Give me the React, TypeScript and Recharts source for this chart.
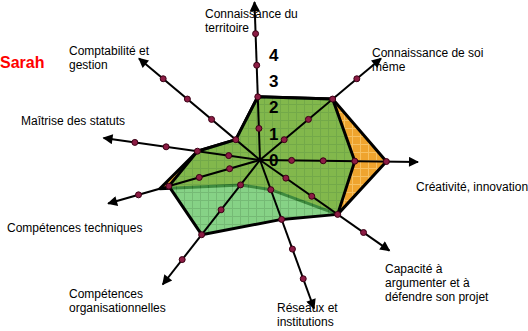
import React from 'react';
import { RadarChart, Radar, PolarAngleAxis, PolarRadiusAxis } from 'recharts';

// skill names (line breaks as in the original figure)
const skills = [
  'Connaissance du\nterritoire',
  'Connaissance de soi\nmême',
  'Créativité, innovation',
  'Capacité à\nargumenter et à\ndéfendre son projet',
  'Réseaux et\ninstitutions',
  'Compétences\norganisationnelles',
  'Compétences techniques',
  'Maîtrise des statuts',
  'Comptabilité et\ngestion',
];
const orangeScores = [2, 3, 4, 3, 1, 1, 3.3, 2, 1];
const greenScores = [2, 3, 3, 3, 2, 3, 3, 2, 1];
const scaleTicks = [0, 1, 2, 3, 4];

// layout: the axes of the drawing are not evenly spaced (degrees, counter-clockwise)
const axisAngles = [92, 40, 359.3, 325, 290, 232, 196, 172, 140];
const labelPos = [
  { left: 205, top: 7 },
  { left: 372, top: 46 },
  { left: 416, top: 180 },
  { left: 385, top: 262 },
  { left: 277, top: 301 },
  { left: 69, top: 287 },
  { left: 7, top: 221 },
  { left: 21, top: 114 },
  { left: 69, top: 44 },
];

const tableData = skills.map((skill, i) => ({
  skill,
  angle: axisAngles[i],
  orange: orangeScores[i],
  green: greenScores[i],
}));

const FONT = '"Liberation Sans", Arial, sans-serif';
const R = 158;

export default function App() {
  return (
    <div style={{ position: 'absolute', left: 0, top: 0, width: 528, height: 331, background: '#fff', overflow: 'hidden', fontFamily: FONT }}>
      <style>{`.recharts-polar-angle-axis-tick-line { marker-start: url(#axisArrow); }`}</style>
      <svg width={0} height={0} style={{ position: 'absolute' }}>
        <defs>
          <marker id="axisArrow" viewBox="0 0 10 10" refX={9} refY={5} markerWidth={12} markerHeight={10} markerUnits="userSpaceOnUse" orient="auto-start-reverse">
            <path d="M0,0 L10,5 L0,10 z" fill="#000" />
          </marker>
          <pattern id="orangeHatch" width={8} height={8} patternUnits="userSpaceOnUse">
            <rect width={8} height={8} fill="#efa42e" />
            <path d="M0,0.5 H8 M0.5,0 V8" stroke="#f7c060" strokeWidth={1} />
          </pattern>
          <pattern id="greenHatch" width={8} height={8} patternUnits="userSpaceOnUse">
            <rect width={8} height={8} fill="#58c058" />
            <path d="M0,0.5 H8 M0.5,0 V8" stroke="#40a040" strokeWidth={1} />
          </pattern>
        </defs>
      </svg>

      <RadarChart
        width={528}
        height={331}
        data={tableData}
        cx={260}
        cy={160}
        outerRadius={R}
        startAngle={0}
        endAngle={360}
        margin={{ top: 0, right: 0, bottom: 0, left: 0 }}
      >
        <PolarAngleAxis
          dataKey="angle"
          type="number"
          domain={[0, 360]}
          ticks={axisAngles}
          orientation="inner"
          tickSize={R}
          tick={false}
          axisLine={false}
          tickLine={{ stroke: '#000', strokeWidth: 2 }}
        />
        <PolarRadiusAxis
          radiusAxisId="poly"
          angle={90}
          domain={[0, 5]}
          allowDataOverflow
          ticks={scaleTicks}
          axisLine={false}
          tick={{ fill: 'none', fontSize: 1 }}
        />
        <PolarRadiusAxis
          radiusAxisId="lbl"
          angle={90}
          domain={[0, 5.75]}
          allowDataOverflow
          ticks={scaleTicks}
          axisLine={false}
          tick={{ fill: '#000', fontSize: 17, fontWeight: 'bold', fontFamily: FONT, dx: 9, dy: 6 }}
        />
        <Radar
          radiusAxisId="poly"
          dataKey="orange"
          fill="url(#orangeHatch)"
          fillOpacity={1}
          stroke="#000"
          strokeWidth={3}
          strokeLinejoin="round"
          dot={false}
          isAnimationActive={false}
        />
        <Radar
          radiusAxisId="poly"
          dataKey="green"
          fill="url(#greenHatch)"
          fillOpacity={0.72}
          stroke="#000"
          strokeWidth={3}
          strokeLinejoin="round"
          dot={false}
          isAnimationActive={false}
        />
        {scaleTicks.filter((t) => t > 0).map((t) => (
          <Radar
            key={t}
            radiusAxisId="poly"
            dataKey={() => t}
            fill="none"
            stroke="none"
            dot={{ r: 3, fill: '#8c1c44', stroke: '#3a0014', strokeWidth: 1, fillOpacity: 1 }}
            isAnimationActive={false}
          />
        ))}
      </RadarChart>

      <div style={{ position: 'absolute', left: 0, top: 54, color: '#ff0000', fontWeight: 'bold', fontSize: 16, lineHeight: '18px' }}>
        Sarah
      </div>
      {skills.map((s, i) => (
        <div
          key={s}
          style={{
            position: 'absolute',
            left: labelPos[i].left,
            top: labelPos[i].top,
            fontSize: 12,
            lineHeight: '14px',
            whiteSpace: 'pre',
            color: '#000',
          }}
        >
          {s}
        </div>
      ))}
    </div>
  );
}
